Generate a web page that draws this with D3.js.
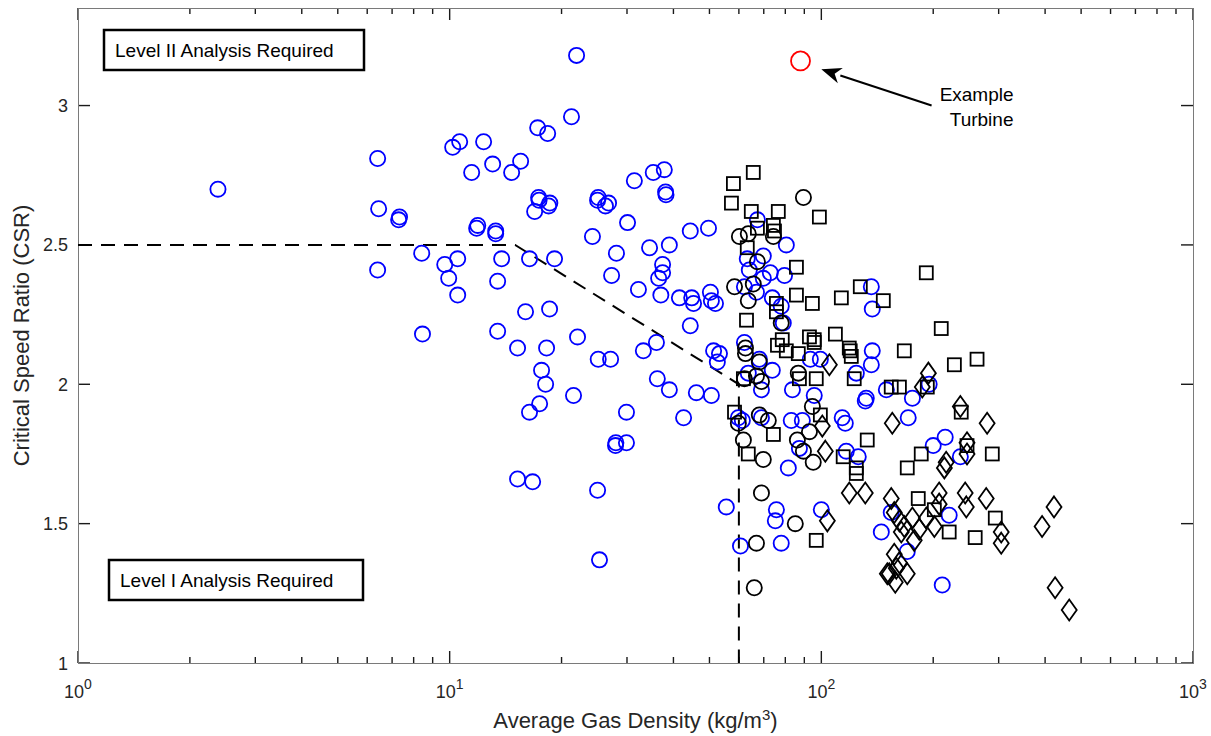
<!DOCTYPE html>
<html>
<head>
<meta charset="utf-8">
<script src="https://cdn.jsdelivr.net/npm/d3@7"></script>
<style>
  body { margin: 0; background: #fff; }
  text { font-family: "Liberation Sans", Arial, sans-serif; }
</style>
</head>
<body>
<div id="grafico"></div>
<script>
// densidade media do gas (kg/m3) x razao de velocidade critica (CSR)
const circulosAzuis = [
  [2.38,2.70],[6.40,2.81],[6.44,2.63],[7.29,2.59],[7.33,2.60],[6.40,2.41],[8.41,2.47],[8.45,2.18],
  [9.70,2.43],[9.94,2.38],[10.19,2.85],[10.64,2.87],[10.51,2.45],[10.51,2.32],[11.46,2.76],[11.82,2.56],
  [11.9,2.57],[12.34,2.87],[13.05,2.79],[13.30,2.54],[13.3,2.55],[13.46,2.37],[13.80,2.45],[13.46,2.19],
  [14.68,2.76],[15.52,2.80],[16.0,2.26],[15.23,2.13],[16.4,2.45],[16.4,1.90],[15.23,1.66],[16.72,1.65],
  [16.93,2.62],[17.35,2.67],[17.4,2.66],[17.25,2.92],[18.35,2.90],[18.46,2.64],[18.6,2.65],[17.67,2.05],
  [18.12,2.00],[17.46,1.93],[18.23,2.13],[18.57,2.27],[19.15,2.45],[21.27,2.96],[21.95,3.18],[22.08,2.17],
  [21.54,1.96],[24.22,2.53],[25.0,2.66],[25.1,2.67],[26.25,2.64],[25.1,2.09],[25.0,1.62],[25.3,1.37],
  [26.76,2.65],[27.1,2.09],[27.27,2.39],[28.1,2.47],[27.94,1.78],[28.0,1.79],[29.9,1.79],[29.9,1.90],
  [30.1,2.58],[31.4,2.73],[32.2,2.34],[33.2,2.12],[34.5,2.49],[35.3,2.76],[36.0,2.15],[36.2,2.02],
  [36.5,2.38],[37.4,2.40],[37.8,2.77],[38.1,2.69],[38.2,2.68],[37.4,2.43],[37.0,2.32],[39.0,2.50],
  [39.0,1.98],[42.6,1.88],[41.5,2.31],[44.4,2.55],[44.8,2.31],[44.4,2.21],[45.3,2.29],[46.1,1.97],
  [49.7,2.56],[50.3,2.33],[50.6,2.30],[51.3,2.12],[50.6,1.96],[52.5,2.08],[55.5,1.56],[60.6,1.42],
  [62.1,2.15],[61.3,1.87],[63.2,2.45],[64.0,2.41],[67.3,2.59],[51.9,2.29],[69.8,2.46],[80.5,2.50],
  [72.9,2.40],[69.8,2.38],[79.6,2.39],[62.1,2.35],[66.9,2.33],[136.3,2.35],[137.1,2.27],[78.0,2.28],
  [73.8,2.31],[79.0,2.22],[53.2,2.11],[68.1,2.09],[73.8,2.05],[63.6,2.04],[83.6,1.98],[93.4,2.09],
  [99.4,2.09],[137.1,2.12],[124.2,2.04],[132.1,1.95],[149.6,1.98],[69.0,1.98],[95.7,1.96],[131.3,1.94],
  [59.8,1.88],[69.0,1.88],[83.0,1.87],[88.9,1.87],[113.8,1.88],[116.0,1.86],[87.3,1.77],[116.7,1.76],
  [125.7,1.74],[81.5,1.70],[75.7,1.55],[75.2,1.51],[100,1.55],[78.0,1.43],[145.0,1.47],[154.2,1.54],
  [136.3,2.07],[175.8,1.95],[171.3,1.88],[195.0,2.00],[215.4,1.81],[200,1.78],[236.6,1.74],[220.8,1.53],
  [170.3,1.40],[211.5,1.28]
];

const circulosPretos = [
  [89.5,2.67],[60.2,2.53],[63.6,2.54],[74.3,2.53],[67.3,2.44],[58.4,2.35],[65.6,2.36],[63.6,2.30],
  [78.0,2.22],[62.5,2.13],[62.5,2.11],[68.1,2.08],[66.9,2.03],[69.0,2.01],[62.1,2.02],[86.7,2.04],
  [59.8,1.86],[68.1,1.89],[72.0,1.87],[61.7,1.80],[69.8,1.73],[94.6,1.92],[92.9,1.83],[86.2,1.80],
  [89.5,1.76],[95.1,1.72],[69.0,1.61],[85.1,1.50],[66.9,1.43],[66.0,1.27]
];

const quadrados = [
  [65.6,2.76],[58.0,2.72],[57.3,2.65],[64.8,2.62],[76.6,2.62],[98.8,2.60],[67.3,2.56],[74.3,2.57],
  [74.8,2.55],[63.2,2.49],[85.7,2.42],[85.7,2.32],[94.6,2.29],[75.7,2.29],[75.7,2.26],[62.9,2.23],
  [113.2,2.31],[127.3,2.35],[146.8,2.30],[78.5,2.16],[76.2,2.14],[80.5,2.12],[86.7,2.11],[92.9,2.17],
  [95.7,2.16],[95.7,2.15],[109.1,2.18],[118.9,2.13],[119.6,2.12],[120.4,2.10],[122.6,2.02],[210.2,2.20],
  [167.2,2.12],[262.4,2.09],[228.0,2.07],[154.2,1.99],[162.2,1.99],[192.8,1.99],[237.9,1.90],[132.9,1.80],
  [185.7,1.75],[124.2,1.70],[124.2,1.68],[170.3,1.70],[246.6,1.78],[288.4,1.75],[182.3,1.59],[201.4,1.55],
  [220.8,1.47],[259.4,1.45],[293.8,1.52],[58.4,1.90],[74.3,1.82],[63.6,1.75],[99.4,1.89],[114.5,1.74],
  [96.9,1.44],[61.7,2.02],[87.3,2.02],[96.9,2.02],[191.6,2.40]
];

const losangos = [
  [105.1,2.07],[102.5,1.76],[103.8,1.51],[100.6,1.85],[118.9,1.61],[131.3,1.61],[155.2,1.86],[154.2,1.59],
  [157.1,1.39],[159.1,1.34],[152.3,1.32],[158.1,1.29],[194.1,2.04],[186.9,1.99],[236.6,1.92],[279.3,1.86],
  [246.6,1.79],[246.6,1.75],[216.7,1.72],[214.3,1.70],[157.1,1.54],[162.2,1.51],[167.2,1.49],[175.8,1.52],
  [183.4,1.48],[177.8,1.44],[164.1,1.47],[162.2,1.36],[150.5,1.32],[170.3,1.32],[191.6,1.52],[201.4,1.49],
  [207.5,1.61],[207.5,1.57],[243.8,1.61],[245.5,1.56],[277.7,1.59],[304.8,1.47],[304.8,1.43],[392.6,1.49],
  [422.7,1.56],[425.6,1.27],[464.5,1.19]
];

const turbinaExemplo = [[87.9,3.16]];
const limiteNivel = [[1,2.5],[15,2.5],[60,2.0],[60,1]];
const setaDe = [198, 3.0];
const setaPara = [100, 3.13];

const ticksY = [1, 1.5, 2, 2.5, 3];
const ticksXMaior = [1, 10, 100, 1000];
const expoentesX = ["0", "1", "2", "3"];

const largura = 1211, altura = 736;
const margem = { top: 8, right: 18, bottom: 73, left: 78 };
const corTexto = "#262626";

const svg = d3.select("#grafico").append("svg")
    .attr("width", largura)
    .attr("height", altura);

const x = d3.scaleLog().domain([1, 1000]).range([margem.left, largura - margem.right]);
const y = d3.scaleLinear().domain([1, 3.35]).range([altura - margem.bottom, margem.top]);

const x0 = x.range()[0], x1 = x.range()[1];
const y0 = y.range()[0], y1 = y.range()[1];

// ticks menores do eixo log
const ticksXMenor = [];
[1, 10, 100].forEach(dec => {
    for (let k = 2; k <= 9; k++) ticksXMenor.push(dec * k);
});

const eixos = svg.append("g");

function tracoTick(x1_, y1_, x2_, y2_) {
    eixos.append("line")
        .attr("x1", x1_).attr("y1", y1_).attr("x2", x2_).attr("y2", y2_)
        .style("stroke", "#1a1a1a")
        .style("stroke-width", "1.4px");
}

ticksXMaior.forEach(v => {
    tracoTick(x(v), y0, x(v), y0 - 12);
    tracoTick(x(v), y1, x(v), y1 + 12);
});
ticksXMenor.forEach(v => {
    tracoTick(x(v), y0, x(v), y0 - 6);
    tracoTick(x(v), y1, x(v), y1 + 6);
});
ticksY.forEach(v => {
    tracoTick(x0, y(v), x0 + 12, y(v));
    tracoTick(x1, y(v), x1 - 12, y(v));
});

eixos.append("rect")
    .attr("x", x0 + 0.5)
    .attr("y", y1 + 0.5)
    .attr("width", x1 - x0)
    .attr("height", y0 - y1)
    .style("fill", "none")
    .style("stroke", "#7a7a7a")
    .style("stroke-width", "1px");

// rotulos dos ticks
ticksY.forEach(v => {
    eixos.append("text")
        .attr("x", x0 - 10)
        .attr("y", y(v) + 6.5)
        .attr("text-anchor", "end")
        .style("font-size", "18px")
        .style("fill", corTexto)
        .text(v);
});

ticksXMaior.forEach((v, i) => {
    const t = eixos.append("text")
        .attr("x", x(v))
        .attr("y", y0 + 35)
        .attr("text-anchor", "middle")
        .style("font-size", "18px")
        .style("fill", corTexto);
    t.append("tspan").text("10");
    t.append("tspan")
        .attr("dy", -9)
        .style("font-size", "14px")
        .text(expoentesX[i]);
});

// titulos dos eixos
const tx = svg.append("text")
    .attr("x", (x0 + x1) / 2)
    .attr("y", 728)
    .attr("text-anchor", "middle")
    .style("font-size", "22px")
    .style("fill", corTexto);
tx.append("tspan").text("Average Gas Density (kg/m");
tx.append("tspan").attr("dy", -8).style("font-size", "15px").text("3");
tx.append("tspan").attr("dy", 8).text(")");

svg.append("text")
    .attr("transform", `translate(29, ${(y0 + y1) / 2}) rotate(-90)`)
    .attr("text-anchor", "middle")
    .style("font-size", "22px")
    .style("fill", corTexto)
    .text("Critical Speed Ratio (CSR)");

// linha tracejada de limite
const linha = d3.line().x(d => x(d[0])).y(d => y(d[1]));
svg.append("path")
    .datum(limiteNivel)
    .attr("d", linha)
    .style("fill", "none")
    .style("stroke", "#000")
    .style("stroke-width", "2px")
    .style("stroke-dasharray", "14,9");

// marcadores
const pontos = svg.append("g");

pontos.selectAll(".azul")
    .data(circulosAzuis)
    .enter().append("circle")
    .attr("class", "azul")
    .attr("cx", d => x(d[0]))
    .attr("cy", d => y(d[1]))
    .attr("r", 7.6)
    .style("fill", "none")
    .style("stroke", "#0000ff")
    .style("stroke-width", "1.8px");

pontos.selectAll(".preto")
    .data(circulosPretos)
    .enter().append("circle")
    .attr("class", "preto")
    .attr("cx", d => x(d[0]))
    .attr("cy", d => y(d[1]))
    .attr("r", 7.6)
    .style("fill", "none")
    .style("stroke", "#000")
    .style("stroke-width", "1.8px");

const lado = 13;
pontos.selectAll(".quadrado")
    .data(quadrados)
    .enter().append("rect")
    .attr("class", "quadrado")
    .attr("x", d => x(d[0]) - lado / 2)
    .attr("y", d => y(d[1]) - lado / 2)
    .attr("width", lado)
    .attr("height", lado)
    .style("fill", "none")
    .style("stroke", "#000")
    .style("stroke-width", "1.8px");

const meiaL = 7.5, meiaA = 10.5;
pontos.selectAll(".losango")
    .data(losangos)
    .enter().append("path")
    .attr("class", "losango")
    .attr("d", d => {
        const cx = x(d[0]), cy = y(d[1]);
        return `M${cx},${cy - meiaA}L${cx + meiaL},${cy}L${cx},${cy + meiaA}L${cx - meiaL},${cy}Z`;
    })
    .style("fill", "none")
    .style("stroke", "#000")
    .style("stroke-width", "1.8px");

pontos.selectAll(".exemplo")
    .data(turbinaExemplo)
    .enter().append("circle")
    .attr("class", "exemplo")
    .attr("cx", d => x(d[0]))
    .attr("cy", d => y(d[1]))
    .attr("r", 9.5)
    .style("fill", "none")
    .style("stroke", "#ff0000")
    .style("stroke-width", "1.8px");

// seta de anotacao
const ax1 = x(setaDe[0]), ay1 = y(setaDe[1]);
const ax2 = x(setaPara[0]), ay2 = y(setaPara[1]);
const ang = Math.atan2(ay2 - ay1, ax2 - ax1);
const compCabeca = 20, largCabeca = 8;
const bx = ax2 - compCabeca * Math.cos(ang), by = ay2 - compCabeca * Math.sin(ang);
svg.append("line")
    .attr("x1", ax1).attr("y1", ay1).attr("x2", bx).attr("y2", by)
    .style("stroke", "#000")
    .style("stroke-width", "2px");
svg.append("path")
    .attr("d", `M${ax2},${ay2}` +
        `L${bx + largCabeca * Math.sin(ang)},${by - largCabeca * Math.cos(ang)}` +
        `L${bx + 6 * Math.cos(ang)},${by + 6 * Math.sin(ang)}` +
        `L${bx - largCabeca * Math.sin(ang)},${by + largCabeca * Math.cos(ang)}Z`)
    .style("fill", "#000");

svg.append("text")
    .attr("x", ax1 + 45)
    .attr("y", ay1 - 5)
    .attr("text-anchor", "middle")
    .style("font-size", "19px")
    .style("fill", "#000")
    .text("Example");
svg.append("text")
    .attr("x", ax1 + 50)
    .attr("y", ay1 + 20)
    .attr("text-anchor", "middle")
    .style("font-size", "19px")
    .style("fill", "#000")
    .text("Turbine");

// caixas de texto
function caixa(px, py, w, h, texto, tx_) {
    svg.append("rect")
        .attr("x", px).attr("y", py)
        .attr("width", w).attr("height", h)
        .style("fill", "#fff")
        .style("stroke", "#000")
        .style("stroke-width", "2.5px");
    svg.append("text")
        .attr("x", px + tx_)
        .attr("y", py + h / 2 + 7)
        .style("font-size", "19px")
        .style("fill", "#000")
        .text(texto);
}
caixa(104, 30, 260, 40, "Level II Analysis Required", 11);
caixa(109, 560, 254, 40, "Level I Analysis Required", 11);
</script>
</body>
</html>
